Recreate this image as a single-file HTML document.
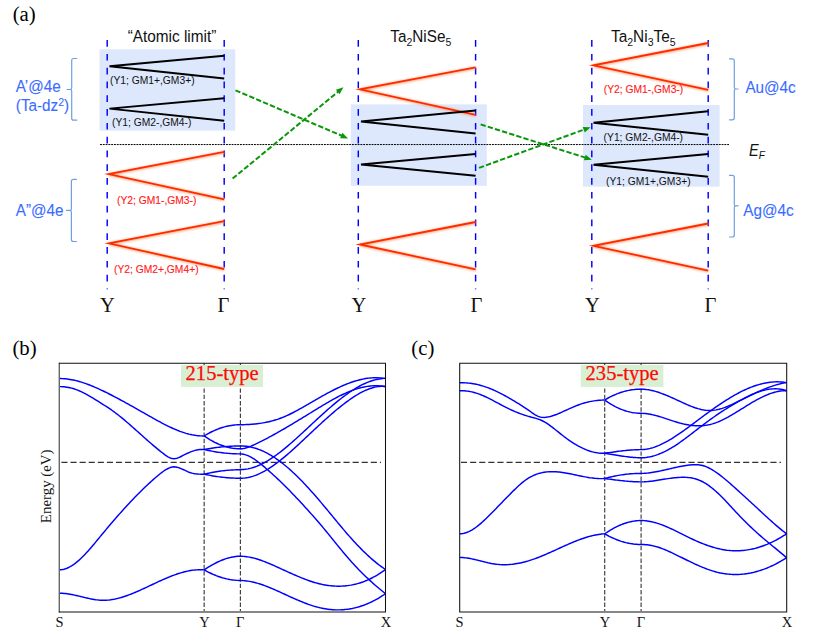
<!DOCTYPE html>
<html>
<head>
<meta charset="utf-8">
<title>Figure</title>
<style>
html,body{margin:0;padding:0;background:#fff;}
body{width:822px;height:638px;overflow:hidden;}
svg{display:block;}
text{white-space:pre;}
.sans{font-family:"Liberation Sans",sans-serif;}
.serif{font-family:"Liberation Serif",serif;}
</style>
</head>
<body>
<svg width="822" height="638" viewBox="0 0 822 638">
<defs>
<filter id="glow" x="-5%" y="-25%" width="110%" height="150%"><feGaussianBlur stdDeviation="1.2"/></filter>
</defs>
<rect x="0" y="0" width="822" height="638" fill="#ffffff"/>

<!-- ============ PANEL (a) ============ -->
<text class="serif" x="12.7" y="20.8" font-size="20.8">(a)</text>

<!-- shaded boxes -->
<g fill="#dde8fc">
<rect x="99.5" y="49.3" width="135.8" height="81.3"/>
<rect x="350.8" y="104.4" width="136" height="81.4"/>
<rect x="583" y="105" width="136.6" height="81.6"/>
</g>

<!-- E_F dotted line -->
<line x1="100" y1="144.55" x2="729" y2="144.55" stroke="#000" stroke-width="1" stroke-dasharray="1.9 0.9"/>

<!-- blue dashed verticals -->
<g stroke="#0000ff" stroke-width="1.45" stroke-dasharray="6.7 7.1" fill="none">
<line x1="107.2" y1="40.1" x2="107.2" y2="289.2"/>
<line x1="224.2" y1="40.1" x2="224.2" y2="289.2"/>
<line x1="358.3" y1="40.1" x2="358.3" y2="289.2"/>
<line x1="475.6" y1="40.1" x2="475.6" y2="289.2"/>
<line x1="591.8" y1="40.1" x2="591.8" y2="289.2"/>
<line x1="708.2" y1="40.1" x2="708.2" y2="289.2"/>
</g>

<!-- red V glows -->
<g stroke="#ff9055" stroke-width="3" fill="none" filter="url(#glow)" opacity="0.7" transform="translate(0.4 0.5)">
<path d="M224.2 151.9L108.6 174.1L224.2 199.3"/>
<path d="M224.2 221.2L108.8 243.4L224.2 269"/>
<path d="M475.6 67.4L359.8 89.3L475.6 114.9"/>
<path d="M475.6 222L359.8 244.5L475.6 269.3"/>
<path d="M708.2 43L593.3 65.3L708.2 89.8"/>
<path d="M708.2 223.5L593.3 245.8L708.2 270.6"/>
</g>
<!-- red V -->
<g stroke="#ff2a00" stroke-width="1.8" fill="none" stroke-linejoin="miter" stroke-miterlimit="8">
<path d="M224.2 151.9L108.6 174.1L224.2 199.3"/>
<path d="M224.2 221.2L108.8 243.4L224.2 269"/>
<path d="M475.6 67.4L359.8 89.3L475.6 114.9"/>
<path d="M475.6 222L359.8 244.5L475.6 269.3"/>
<path d="M708.2 43L593.3 65.3L708.2 89.8"/>
<path d="M708.2 223.5L593.3 245.8L708.2 270.6"/>
</g>
<!-- black V -->
<g stroke="#000" stroke-width="1.9" fill="none" stroke-linejoin="miter">
<path d="M224.2 55.7L109.5 66.3L224.2 78.5"/>
<path d="M224.2 98.2L109.5 108.6L224.2 120.7"/>
<path d="M475.6 110.5L361 121.5L475.6 133.5"/>
<path d="M475.6 154L361 164.5L475.6 175.8"/>
<path d="M708.2 111.2L593.5 122.8L708.2 134.8"/>
<path d="M708.2 154L593.5 164.8L708.2 176.7"/>
</g>

<!-- green dashed arrows -->
<g stroke="#0a960a" stroke-width="2" stroke-dasharray="5.3 2.2" fill="none">
<line x1="235.5" y1="90.3" x2="341.7" y2="135.7"/>
<line x1="232.6" y1="178.6" x2="338.2" y2="91.6"/>
<line x1="480.6" y1="124.4" x2="585.3" y2="157.6"/>
<line x1="479.0" y1="167.9" x2="584.2" y2="129.5"/>
</g>
<g fill="#0a960a">
<path d="M348.0 138.4L340.1 138.2L342.4 132.8Z"/>
<path d="M343.4 87.3L339.6 94.2L335.9 89.7Z"/>
<path d="M591.8 159.7L583.9 160.3L585.7 154.7Z"/>
<path d="M590.6 127.2L584.8 132.5L582.7 126.9Z"/>
</g>

<!-- titles -->
<text class="sans" transform="translate(127.7 42) scale(1 1.08)" font-size="15.35" fill="#111">“Atomic limit”</text>
<text class="sans" transform="translate(390.3 42) scale(1 1.08)" font-size="15.3" fill="#111">Ta<tspan font-size="10.5" dy="4">2</tspan><tspan dy="-4">NiSe</tspan><tspan font-size="10.5" dy="4">5</tspan></text>
<text class="sans" transform="translate(611 41.5) scale(1 1.08)" font-size="15.4" fill="#111">Ta<tspan font-size="10.5" dy="4">2</tspan><tspan dy="-4">Ni</tspan><tspan font-size="10.5" dy="4">3</tspan><tspan dy="-4">Te</tspan><tspan font-size="10.5" dy="4">5</tspan></text>

<!-- band labels -->
<g class="sans" font-size="10.3" fill="#111">
<text transform="translate(110 83.6) scale(1 1.08)">(Y1; GM1+,GM3+)</text>
<text transform="translate(112 126) scale(1 1.08)">(Y1; GM2-,GM4-)</text>
<text transform="translate(603.6 140.6) scale(1 1.08)">(Y1; GM2-,GM4-)</text>
<text transform="translate(606 184.6) scale(1 1.08)">(Y1; GM1+,GM3+)</text>
</g>
<g class="sans" font-size="10.3" fill="#ff1a1a" stroke="#ff1a1a" stroke-width="0.12">
<text transform="translate(117 203.5) scale(1 1.08)">(Y2; GM1-,GM3-)</text>
<text transform="translate(114 272.8) scale(1 1.08)">(Y2; GM2+,GM4+)</text>
<text transform="translate(603.8 93.4) scale(1 1.08)">(Y2; GM1-,GM3-)</text>
</g>

<!-- side labels -->
<g class="sans" font-size="15.3" fill="#3a6cff" stroke="#3a6cff" stroke-width="0.1">
<text transform="translate(15.8 92) scale(1 1.08)">A’@4e</text>
<text transform="translate(15.8 111) scale(1 1.08)">(Ta-dz<tspan font-size="10.5" dy="-4.9">2</tspan><tspan dy="4.9">)</tspan></text>
<text transform="translate(15.8 215.8) scale(1 1.08)">A”@4e</text>
<text transform="translate(745.4 93.4) scale(1 1.08)">Au@4c</text>
<text transform="translate(743.3 215.6) scale(1 1.08)">Ag@4c</text>
</g>
<text class="sans" transform="translate(749 155.5) scale(1 1.08)" font-size="14.5" font-style="italic" fill="#111">E<tspan font-size="10" dy="3.5">F</tspan></text>

<!-- brackets -->
<g stroke="#6f9fe0" stroke-width="1.2" fill="none">
<path d="M77.3 58.5L73.7 58.5Q71.7 58.5 71.7 60.5L71.7 88.0Q71.7 89.5 70.0 89.5L66.5 89.5M70.0 89.5Q71.7 89.5 71.7 91.0L71.7 118.2Q71.7 120.2 73.7 120.2L77.3 120.2"/>
<path d="M76.9 179.4L73.4 179.4Q71.4 179.4 71.4 181.4L71.4 208.9Q71.4 210.4 69.7 210.4L66.0 210.4M69.7 210.4Q71.4 210.4 71.4 211.9L71.4 239.5Q71.4 241.5 73.4 241.5L76.9 241.5"/>
<path d="M729.1 58.8L732.3 58.8Q734.3 58.8 734.3 60.8L734.3 87.5Q734.3 89.0 736.0 89.0L738.5 89.0M736.0 89.0Q734.3 89.0 734.3 90.5L734.3 117.8Q734.3 119.8 732.3 119.8L729.1 119.8"/>
<path d="M729.1 175.4L732.3 175.4Q734.3 175.4 734.3 177.4L734.3 204.4Q734.3 205.9 736.0 205.9L738.5 205.9M736.0 205.9Q734.3 205.9 734.3 207.4L734.3 235.0Q734.3 237.0 732.3 237.0L729.1 237.0"/>
</g>

<!-- k labels -->
<g class="serif" font-size="20.5" fill="#111" text-anchor="middle">
<text x="107.5" y="311.5">Y</text><text x="223.5" y="311.5">Γ</text>
<text x="359" y="311.5">Y</text><text x="476.5" y="311.5">Γ</text>
<text x="592.3" y="311.5">Y</text><text x="710.5" y="311.5">Γ</text>
</g>

<!-- ============ PANEL (b) ============ -->
<text class="serif" x="12.4" y="355" font-size="20.8">(b)</text>
<g stroke="#444" stroke-width="1.2" stroke-dasharray="4.4 1.9" fill="none">
<line x1="204.15" y1="363.2" x2="204.15" y2="611"/>
<line x1="240.4" y1="363.2" x2="240.4" y2="611"/>
</g>
<line x1="61.4" y1="462.3" x2="381" y2="462.3" stroke="#333" stroke-width="1.15" stroke-dasharray="6.1 3" fill="none"/>
<g stroke="#0000ff" stroke-width="1.45" fill="none" stroke-linecap="butt">
<path d="M59.50 378.50L61.01 378.55L62.51 378.60L64.02 378.69L65.53 378.82L67.03 378.98L68.54 379.18L70.05 379.41L71.55 379.67L73.06 379.97L74.57 380.30L76.07 380.65L77.58 381.04L79.09 381.46L80.59 381.90L82.10 382.36L83.61 382.85L85.12 383.37L86.62 383.91L88.13 384.47L89.64 385.04L91.14 385.64L92.65 386.26L94.16 386.90L95.66 387.55L97.17 388.21L98.68 388.89L100.18 389.59L101.69 390.29L103.20 391.01L104.70 391.74L106.21 392.47L107.72 393.22L109.22 393.98L110.73 394.74L112.24 395.51L113.74 396.29L115.25 397.08L116.76 397.88L118.26 398.68L119.77 399.49L121.28 400.31L122.78 401.13L124.29 401.95L125.80 402.78L127.30 403.62L128.81 404.46L130.32 405.30L131.82 406.15L133.33 406.99L134.84 407.85L136.35 408.70L137.85 409.55L139.36 410.41L140.87 411.26L142.37 412.12L143.88 412.98L145.39 413.83L146.89 414.69L148.40 415.54L149.91 416.39L151.41 417.24L152.92 418.09L154.43 418.93L155.93 419.77L157.44 420.60L158.95 421.42L160.45 422.23L161.96 423.03L163.47 423.82L164.97 424.59L166.48 425.35L167.99 426.10L169.49 426.82L171.00 427.53L172.51 428.22L174.01 428.89L175.52 429.53L177.03 430.16L178.53 430.75L180.04 431.33L181.55 431.87L183.06 432.39L184.56 432.87L186.07 433.33L187.58 433.75L189.08 434.14L190.59 434.49L192.10 434.81L193.60 435.09L195.11 435.33L196.62 435.53L198.12 435.69L199.63 435.81L201.14 435.89L202.64 435.92L204.15 435.90"/>
<path d="M59.50 386.60L61.01 386.60L62.51 386.67L64.02 386.78L65.53 386.95L67.03 387.17L68.54 387.44L70.05 387.76L71.55 388.14L73.06 388.56L74.57 389.03L76.07 389.56L77.58 390.13L79.09 390.75L80.59 391.42L82.10 392.12L83.61 392.87L85.12 393.64L86.62 394.45L88.13 395.29L89.64 396.16L91.14 397.04L92.65 397.95L94.16 398.87L95.66 399.80L97.17 400.74L98.68 401.69L100.18 402.65L101.69 403.60L103.20 404.55L104.70 405.50L106.21 406.46L107.72 407.43L109.22 408.43L110.73 409.46L112.24 410.51L113.74 411.60L115.25 412.72L116.76 413.86L118.26 415.03L119.77 416.22L121.28 417.43L122.78 418.67L124.29 419.92L125.80 421.19L127.30 422.48L128.81 423.78L130.32 425.09L131.82 426.42L133.33 427.75L134.84 429.09L136.35 430.43L137.85 431.78L139.36 433.13L140.87 434.48L142.37 435.83L143.88 437.18L145.39 438.52L146.89 439.85L148.40 441.18L149.91 442.50L151.41 443.81L152.92 445.10L154.43 446.38L155.93 447.65L157.44 448.89L158.95 450.12L160.45 451.33L161.96 452.51L163.47 453.67L164.97 454.79L166.48 455.85L167.99 456.80L169.49 457.60L171.00 458.21L172.51 458.59L174.01 458.69L175.52 458.54L177.03 458.18L178.53 457.65L180.04 457.00L181.55 456.26L183.06 455.48L184.56 454.70L186.07 453.95L187.58 453.23L189.08 452.55L190.59 451.91L192.10 451.33L193.60 450.82L195.11 450.38L196.62 450.01L198.12 449.74L199.63 449.56L201.14 449.46L202.64 449.44L204.15 449.50"/>
<path d="M59.50 569.80L61.01 569.75L62.51 569.55L64.02 569.22L65.53 568.77L67.03 568.21L68.54 567.53L70.05 566.74L71.55 565.86L73.06 564.88L74.57 563.80L76.07 562.64L77.58 561.40L79.09 560.09L80.59 558.70L82.10 557.25L83.61 555.74L85.12 554.17L86.62 552.56L88.13 550.90L89.64 549.20L91.14 547.47L92.65 545.70L94.16 543.92L95.66 542.11L97.17 540.29L98.68 538.47L100.18 536.64L101.69 534.81L103.20 532.99L104.70 531.18L106.21 529.38L107.72 527.59L109.22 525.80L110.73 524.03L112.24 522.27L113.74 520.52L115.25 518.78L116.76 517.05L118.26 515.33L119.77 513.63L121.28 511.93L122.78 510.25L124.29 508.59L125.80 506.94L127.30 505.30L128.81 503.67L130.32 502.06L131.82 500.47L133.33 498.89L134.84 497.33L136.35 495.78L137.85 494.25L139.36 492.73L140.87 491.23L142.37 489.75L143.88 488.29L145.39 486.84L146.89 485.42L148.40 484.01L149.91 482.62L151.41 481.25L152.92 479.90L154.43 478.57L155.93 477.26L157.44 475.98L158.95 474.71L160.45 473.49L161.96 472.33L163.47 471.23L164.97 470.22L166.48 469.30L167.99 468.50L169.49 467.82L171.00 467.29L172.51 466.96L174.01 466.84L175.52 466.94L177.03 467.22L178.53 467.65L180.04 468.20L181.55 468.82L183.06 469.51L184.56 470.21L186.07 470.92L187.58 471.59L189.08 472.21L190.59 472.74L192.10 473.16L193.60 473.49L195.11 473.73L196.62 473.91L198.12 474.04L199.63 474.13L201.14 474.19L202.64 474.24L204.15 474.30"/>
<path d="M59.50 593.20L61.01 593.26L62.51 593.32L64.02 593.43L65.53 593.57L67.03 593.76L68.54 593.98L70.05 594.22L71.55 594.50L73.06 594.80L74.57 595.12L76.07 595.45L77.58 595.80L79.09 596.16L80.59 596.52L82.10 596.89L83.61 597.25L85.12 597.61L86.62 597.96L88.13 598.30L89.64 598.63L91.14 598.94L92.65 599.22L94.16 599.48L95.66 599.71L97.17 599.90L98.68 600.07L100.18 600.19L101.69 600.26L103.20 600.30L104.70 600.28L106.21 600.22L107.72 600.11L109.22 599.97L110.73 599.78L112.24 599.55L113.74 599.29L115.25 598.99L116.76 598.65L118.26 598.29L119.77 597.89L121.28 597.46L122.78 597.00L124.29 596.52L125.80 596.01L127.30 595.48L128.81 594.92L130.32 594.35L131.82 593.75L133.33 593.14L134.84 592.51L136.35 591.87L137.85 591.22L139.36 590.55L140.87 589.88L142.37 589.19L143.88 588.50L145.39 587.80L146.89 587.10L148.40 586.39L149.91 585.68L151.41 584.97L152.92 584.26L154.43 583.55L155.93 582.84L157.44 582.14L158.95 581.45L160.45 580.76L161.96 580.08L163.47 579.41L164.97 578.75L166.48 578.10L167.99 577.47L169.49 576.85L171.00 576.25L172.51 575.67L174.01 575.10L175.52 574.56L177.03 574.04L178.53 573.54L180.04 573.07L181.55 572.62L183.06 572.20L184.56 571.80L186.07 571.44L187.58 571.11L189.08 570.81L190.59 570.55L192.10 570.32L193.60 570.12L195.11 569.97L196.62 569.85L198.12 569.77L199.63 569.74L201.14 569.75L202.64 569.80L204.15 569.90"/>
<path d="M204.15 435.90L205.66 435.00L207.17 434.13L208.68 433.30L210.19 432.50L211.70 431.75L213.21 431.03L214.72 430.35L216.23 429.71L217.74 429.11L219.25 428.54L220.76 428.02L222.28 427.53L223.79 427.08L225.30 426.67L226.81 426.30L228.32 425.96L229.83 425.67L231.34 425.41L232.85 425.20L234.36 425.02L235.87 424.88L237.38 424.78L238.89 424.72L240.40 424.70L241.91 424.69L243.42 424.66L244.93 424.63L246.45 424.57L247.96 424.51L249.47 424.42L250.98 424.33L252.49 424.21L254.00 424.08L255.51 423.93L257.03 423.77L258.54 423.58L260.05 423.37L261.56 423.14L263.07 422.89L264.58 422.62L266.09 422.33L267.61 422.01L269.12 421.67L270.63 421.30L272.14 420.91L273.65 420.49L275.16 420.04L276.68 419.57L278.19 419.07L279.70 418.53L281.21 417.97L282.72 417.38L284.23 416.76L285.74 416.10L287.26 415.43L288.77 414.72L290.28 413.99L291.79 413.25L293.30 412.48L294.81 411.69L296.32 410.88L297.84 410.06L299.35 409.23L300.86 408.38L302.37 407.53L303.88 406.66L305.39 405.79L306.90 404.92L308.42 404.04L309.93 403.16L311.44 402.27L312.95 401.39L314.46 400.51L315.97 399.64L317.48 398.77L319.00 397.90L320.51 397.05L322.02 396.19L323.53 395.35L325.04 394.51L326.55 393.69L328.06 392.87L329.58 392.07L331.09 391.28L332.60 390.50L334.11 389.74L335.62 388.99L337.13 388.26L338.64 387.54L340.16 386.85L341.67 386.17L343.18 385.51L344.69 384.87L346.20 384.25L347.71 383.65L349.23 383.08L350.74 382.53L352.25 382.01L353.76 381.51L355.27 381.04L356.78 380.60L358.29 380.18L359.81 379.80L361.32 379.44L362.83 379.12L364.34 378.83L365.85 378.57L367.36 378.34L368.87 378.15L370.39 378.00L371.90 377.88L373.41 377.80L374.92 377.76L376.43 377.76L377.94 377.79L379.45 377.87L380.97 377.99L382.48 378.15L383.99 378.36L385.50 378.60"/>
<path d="M204.15 435.90L205.66 436.94L207.17 437.94L208.68 438.89L210.19 439.81L211.70 440.68L213.21 441.50L214.72 442.29L216.23 443.02L217.74 443.72L219.25 444.37L220.76 444.97L222.28 445.53L223.79 446.05L225.30 446.52L226.81 446.95L228.32 447.34L229.83 447.67L231.34 447.97L232.85 448.22L234.36 448.42L235.87 448.58L237.38 448.70L238.89 448.77L240.40 448.80L241.91 448.68L243.42 448.48L244.93 448.18L246.45 447.77L247.96 447.29L249.47 446.74L250.98 446.13L252.49 445.48L254.00 444.80L255.51 444.10L257.03 443.39L258.54 442.67L260.05 441.92L261.56 441.17L263.07 440.40L264.58 439.63L266.09 438.84L267.61 438.04L269.12 437.23L270.63 436.41L272.14 435.59L273.65 434.76L275.16 433.92L276.68 433.07L278.19 432.22L279.70 431.36L281.21 430.49L282.72 429.62L284.23 428.75L285.74 427.86L287.26 426.98L288.77 426.09L290.28 425.19L291.79 424.29L293.30 423.39L294.81 422.48L296.32 421.57L297.84 420.65L299.35 419.73L300.86 418.81L302.37 417.89L303.88 416.97L305.39 416.04L306.90 415.11L308.42 414.18L309.93 413.25L311.44 412.32L312.95 411.39L314.46 410.46L315.97 409.53L317.48 408.60L319.00 407.68L320.51 406.76L322.02 405.84L323.53 404.94L325.04 404.04L326.55 403.15L328.06 402.27L329.58 401.40L331.09 400.54L332.60 399.70L334.11 398.87L335.62 398.06L337.13 397.26L338.64 396.48L340.16 395.72L341.67 394.98L343.18 394.26L344.69 393.56L346.20 392.88L347.71 392.23L349.23 391.60L350.74 391.00L352.25 390.42L353.76 389.88L355.27 389.36L356.78 388.87L358.29 388.42L359.81 387.99L361.32 387.60L362.83 387.25L364.34 386.93L365.85 386.65L367.36 386.40L368.87 386.19L370.39 386.03L371.90 385.90L373.41 385.82L374.92 385.78L376.43 385.78L377.94 385.83L379.45 385.93L380.97 386.07L382.48 386.26L383.99 386.50L385.50 386.80"/>
<path d="M204.15 449.50L205.66 449.22L207.17 448.94L208.68 448.68L210.19 448.43L211.70 448.19L213.21 447.97L214.72 447.76L216.23 447.56L217.74 447.37L219.25 447.19L220.76 447.03L222.28 446.87L223.79 446.73L225.30 446.61L226.81 446.49L228.32 446.39L229.83 446.30L231.34 446.22L232.85 446.15L234.36 446.09L235.87 446.05L237.38 446.02L238.89 446.00L240.40 446.00L241.91 445.99L243.42 446.05L244.93 446.17L246.45 446.33L247.96 446.54L249.47 446.80L250.98 447.10L252.49 447.46L254.00 447.85L255.51 448.30L257.03 448.78L258.54 449.32L260.05 449.89L261.56 450.51L263.07 451.18L264.58 451.89L266.09 452.64L267.61 453.43L269.12 454.26L270.63 455.14L272.14 456.06L273.65 457.01L275.16 458.00L276.68 459.04L278.19 460.10L279.70 461.21L281.21 462.35L282.72 463.52L284.23 464.73L285.74 465.98L287.26 467.25L288.77 468.56L290.28 469.89L291.79 471.26L293.30 472.66L294.81 474.08L296.32 475.53L297.84 477.01L299.35 478.52L300.86 480.05L302.37 481.60L303.88 483.18L305.39 484.78L306.90 486.41L308.42 488.05L309.93 489.72L311.44 491.40L312.95 493.10L314.46 494.82L315.97 496.56L317.48 498.31L319.00 500.07L320.51 501.85L322.02 503.64L323.53 505.44L325.04 507.25L326.55 509.07L328.06 510.89L329.58 512.72L331.09 514.56L332.60 516.39L334.11 518.23L335.62 520.06L337.13 521.89L338.64 523.71L340.16 525.53L341.67 527.33L343.18 529.12L344.69 530.90L346.20 532.66L347.71 534.41L349.23 536.13L350.74 537.84L352.25 539.52L353.76 541.18L355.27 542.82L356.78 544.43L358.29 546.02L359.81 547.59L361.32 549.13L362.83 550.64L364.34 552.12L365.85 553.57L367.36 555.00L368.87 556.39L370.39 557.76L371.90 559.09L373.41 560.38L374.92 561.65L376.43 562.88L377.94 564.08L379.45 565.24L380.97 566.36L382.48 567.44L383.99 568.49L385.50 569.50"/>
<path d="M204.15 449.50L205.66 449.85L207.17 450.19L208.68 450.52L210.19 450.83L211.70 451.12L213.21 451.40L214.72 451.67L216.23 451.92L217.74 452.16L219.25 452.38L220.76 452.58L222.28 452.78L223.79 452.95L225.30 453.11L226.81 453.26L228.32 453.39L229.83 453.51L231.34 453.61L232.85 453.70L234.36 453.77L235.87 453.82L237.38 453.86L238.89 453.89L240.40 453.90L241.91 454.05L243.42 454.26L244.93 454.61L246.45 455.08L247.96 455.67L249.47 456.36L250.98 457.15L252.49 458.03L254.00 458.98L255.51 460.01L257.03 461.10L258.54 462.24L260.05 463.43L261.56 464.65L263.07 465.90L264.58 467.17L266.09 468.46L267.61 469.76L269.12 471.09L270.63 472.43L272.14 473.79L273.65 475.17L275.16 476.56L276.68 477.97L278.19 479.40L279.70 480.84L281.21 482.30L282.72 483.77L284.23 485.26L285.74 486.76L287.26 488.28L288.77 489.81L290.28 491.35L291.79 492.90L293.30 494.47L294.81 496.05L296.32 497.64L297.84 499.24L299.35 500.85L300.86 502.48L302.37 504.11L303.88 505.75L305.39 507.40L306.90 509.07L308.42 510.74L309.93 512.42L311.44 514.12L312.95 515.83L314.46 517.55L315.97 519.28L317.48 521.02L319.00 522.78L320.51 524.55L322.02 526.34L323.53 528.14L325.04 529.96L326.55 531.79L328.06 533.63L329.58 535.49L331.09 537.36L332.60 539.23L334.11 541.10L335.62 542.97L337.13 544.84L338.64 546.70L340.16 548.56L341.67 550.40L343.18 552.22L344.69 554.03L346.20 555.81L347.71 557.57L349.23 559.31L350.74 561.01L352.25 562.69L353.76 564.34L355.27 565.97L356.78 567.57L358.29 569.15L359.81 570.70L361.32 572.22L362.83 573.73L364.34 575.21L365.85 576.66L367.36 578.10L368.87 579.51L370.39 580.90L371.90 582.27L373.41 583.61L374.92 584.94L376.43 586.25L377.94 587.54L379.45 588.80L380.97 590.06L382.48 591.29L383.99 592.50L385.50 593.70"/>
<path d="M204.15 474.20L205.66 473.85L207.17 473.50L208.68 473.17L210.19 472.86L211.70 472.56L213.21 472.27L214.72 472.00L216.23 471.74L217.74 471.50L219.25 471.28L220.76 471.07L222.28 470.87L223.79 470.69L225.30 470.52L226.81 470.37L228.32 470.24L229.83 470.12L231.34 470.01L232.85 469.93L234.36 469.85L235.87 469.80L237.38 469.75L238.89 469.73L240.40 469.70L241.91 469.59L243.42 469.49L244.93 469.34L246.45 469.13L247.96 468.86L249.47 468.54L250.98 468.16L252.49 467.73L254.00 467.24L255.51 466.71L257.03 466.13L258.54 465.50L260.05 464.82L261.56 464.10L263.07 463.34L264.58 462.53L266.09 461.69L267.61 460.80L269.12 459.88L270.63 458.92L272.14 457.93L273.65 456.90L275.16 455.84L276.68 454.75L278.19 453.64L279.70 452.49L281.21 451.32L282.72 450.12L284.23 448.90L285.74 447.66L287.26 446.39L288.77 445.11L290.28 443.81L291.79 442.49L293.30 441.16L294.81 439.81L296.32 438.45L297.84 437.08L299.35 435.70L300.86 434.31L302.37 432.92L303.88 431.52L305.39 430.11L306.90 428.71L308.42 427.30L309.93 425.89L311.44 424.48L312.95 423.07L314.46 421.66L315.97 420.26L317.48 418.87L319.00 417.47L320.51 416.09L322.02 414.71L323.53 413.34L325.04 411.99L326.55 410.64L328.06 409.31L329.58 407.98L331.09 406.68L332.60 405.39L334.11 404.11L335.62 402.85L337.13 401.62L338.64 400.40L340.16 399.20L341.67 398.02L343.18 396.87L344.69 395.74L346.20 394.64L347.71 393.56L349.23 392.51L350.74 391.49L352.25 390.50L353.76 389.53L355.27 388.60L356.78 387.71L358.29 386.84L359.81 386.01L361.32 385.22L362.83 384.47L364.34 383.75L365.85 383.07L367.36 382.43L368.87 381.83L370.39 381.28L371.90 380.77L373.41 380.30L374.92 379.88L376.43 379.51L377.94 379.18L379.45 378.91L380.97 378.68L382.48 378.50L383.99 378.38L385.50 378.30"/>
<path d="M204.15 474.20L205.66 474.52L207.17 474.83L208.68 475.13L210.19 475.41L211.70 475.69L213.21 475.94L214.72 476.19L216.23 476.42L217.74 476.64L219.25 476.85L220.76 477.04L222.28 477.22L223.79 477.38L225.30 477.54L226.81 477.67L228.32 477.80L229.83 477.91L231.34 478.00L232.85 478.08L234.36 478.15L235.87 478.20L237.38 478.24L238.89 478.26L240.40 478.30L241.91 478.24L243.42 478.15L244.93 478.00L246.45 477.78L247.96 477.51L249.47 477.18L250.98 476.80L252.49 476.36L254.00 475.86L255.51 475.32L257.03 474.72L258.54 474.08L260.05 473.39L261.56 472.65L263.07 471.87L264.58 471.05L266.09 470.18L267.61 469.28L269.12 468.34L270.63 467.36L272.14 466.34L273.65 465.30L275.16 464.21L276.68 463.10L278.19 461.96L279.70 460.79L281.21 459.60L282.72 458.38L284.23 457.13L285.74 455.86L287.26 454.58L288.77 453.27L290.28 451.95L291.79 450.61L293.30 449.25L294.81 447.89L296.32 446.51L297.84 445.12L299.35 443.72L300.86 442.31L302.37 440.90L303.88 439.48L305.39 438.06L306.90 436.64L308.42 435.22L309.93 433.80L311.44 432.38L312.95 430.96L314.46 429.54L315.97 428.13L317.48 426.72L319.00 425.32L320.51 423.93L322.02 422.54L323.53 421.16L325.04 419.79L326.55 418.43L328.06 417.09L329.58 415.75L331.09 414.43L332.60 413.13L334.11 411.84L335.62 410.56L337.13 409.30L338.64 408.07L340.16 406.85L341.67 405.65L343.18 404.47L344.69 403.32L346.20 402.18L347.71 401.08L349.23 399.99L350.74 398.94L352.25 397.91L353.76 396.91L355.27 395.94L356.78 395.00L358.29 394.10L359.81 393.24L361.32 392.42L362.83 391.64L364.34 390.90L365.85 390.21L367.36 389.57L368.87 388.98L370.39 388.44L371.90 387.96L373.41 387.53L374.92 387.16L376.43 386.85L377.94 386.61L379.45 386.43L380.97 386.32L382.48 386.27L383.99 386.30L385.50 386.40"/>
<path d="M204.15 569.90L205.66 568.90L207.17 567.93L208.68 566.98L210.19 566.07L211.70 565.19L213.21 564.34L214.72 563.53L216.23 562.75L217.74 562.01L219.25 561.31L220.76 560.65L222.28 560.02L223.79 559.45L225.30 558.91L226.81 558.42L228.32 557.98L229.83 557.58L231.34 557.23L232.85 556.93L234.36 556.68L235.87 556.49L237.38 556.34L238.89 556.26L240.40 556.20L241.91 556.28L243.42 556.37L244.93 556.50L246.45 556.67L247.96 556.89L249.47 557.15L250.98 557.45L252.49 557.79L254.00 558.16L255.51 558.57L257.03 559.01L258.54 559.48L260.05 559.98L261.56 560.51L263.07 561.06L264.58 561.63L266.09 562.22L267.61 562.83L269.12 563.46L270.63 564.11L272.14 564.76L273.65 565.43L275.16 566.10L276.68 566.79L278.19 567.48L279.70 568.17L281.21 568.86L282.72 569.56L284.23 570.25L285.74 570.94L287.26 571.64L288.77 572.32L290.28 573.01L291.79 573.69L293.30 574.36L294.81 575.02L296.32 575.67L297.84 576.32L299.35 576.95L300.86 577.57L302.37 578.18L303.88 578.78L305.39 579.35L306.90 579.92L308.42 580.46L309.93 580.98L311.44 581.49L312.95 581.97L314.46 582.44L315.97 582.88L317.48 583.29L319.00 583.68L320.51 584.04L322.02 584.38L323.53 584.69L325.04 584.97L326.55 585.22L328.06 585.44L329.58 585.64L331.09 585.80L332.60 585.94L334.11 586.04L335.62 586.12L337.13 586.17L338.64 586.18L340.16 586.17L341.67 586.12L343.18 586.04L344.69 585.93L346.20 585.78L347.71 585.60L349.23 585.39L350.74 585.15L352.25 584.87L353.76 584.56L355.27 584.21L356.78 583.83L358.29 583.42L359.81 582.96L361.32 582.47L362.83 581.95L364.34 581.39L365.85 580.79L367.36 580.16L368.87 579.48L370.39 578.77L371.90 578.02L373.41 577.23L374.92 576.41L376.43 575.54L377.94 574.64L379.45 573.69L380.97 572.70L382.48 571.68L383.99 570.61L385.50 569.50"/>
<path d="M204.15 569.90L205.66 570.72L207.17 571.52L208.68 572.29L210.19 573.02L211.70 573.73L213.21 574.40L214.72 575.03L216.23 575.64L217.74 576.21L219.25 576.74L220.76 577.24L222.28 577.71L223.79 578.14L225.30 578.54L226.81 578.90L228.32 579.22L229.83 579.51L231.34 579.76L232.85 579.97L234.36 580.15L235.87 580.29L237.38 580.39L238.89 580.45L240.40 580.50L241.91 580.57L243.42 580.64L244.93 580.76L246.45 580.92L247.96 581.13L249.47 581.37L250.98 581.65L252.49 581.97L254.00 582.32L255.51 582.70L257.03 583.12L258.54 583.57L260.05 584.04L261.56 584.54L263.07 585.06L264.58 585.61L266.09 586.18L267.61 586.76L269.12 587.37L270.63 587.99L272.14 588.63L273.65 589.27L275.16 589.93L276.68 590.60L278.19 591.28L279.70 591.96L281.21 592.65L282.72 593.34L284.23 594.03L285.74 594.72L287.26 595.41L288.77 596.10L290.28 596.79L291.79 597.47L293.30 598.15L294.81 598.82L296.32 599.48L297.84 600.13L299.35 600.77L300.86 601.40L302.37 602.02L303.88 602.62L305.39 603.21L306.90 603.78L308.42 604.33L309.93 604.86L311.44 605.37L312.95 605.85L314.46 606.32L315.97 606.76L317.48 607.17L319.00 607.56L320.51 607.91L322.02 608.24L323.53 608.54L325.04 608.81L326.55 609.05L328.06 609.26L329.58 609.44L331.09 609.59L332.60 609.71L334.11 609.80L335.62 609.86L337.13 609.88L338.64 609.88L340.16 609.85L341.67 609.78L343.18 609.69L344.69 609.56L346.20 609.40L347.71 609.21L349.23 608.99L350.74 608.73L352.25 608.45L353.76 608.13L355.27 607.78L356.78 607.39L358.29 606.98L359.81 606.53L361.32 606.04L362.83 605.53L364.34 604.98L365.85 604.39L367.36 603.78L368.87 603.13L370.39 602.44L371.90 601.73L373.41 600.97L374.92 600.19L376.43 599.36L377.94 598.51L379.45 597.62L380.97 596.69L382.48 595.73L383.99 594.73L385.50 593.70"/>
</g>
<path d="M59.3 362.7L59.3 612.4" stroke="#666" stroke-width="1.4" fill="none"/><path d="M58.9 363.2L386 363.2M385.5 362.7L385.5 612.4M58.9 611.9L386 611.9" stroke="#111" stroke-width="1.05" fill="none"/>
<rect x="181" y="365" width="82" height="21.9" fill="#d9efd4"/>
<text class="serif" x="185.6" y="379.8" font-size="20.55" fill="#ff0808" stroke="#ff0808" stroke-width="0.25">215-type</text>
<text class="serif" font-size="14.9" fill="#111" text-anchor="middle" transform="translate(51 486.3) rotate(-90)">Energy (eV)</text>
<g class="serif" font-size="14.5" fill="#111" text-anchor="middle">
<text transform="translate(59.5 626.8) scale(1 1.07)">S</text><text transform="translate(204.5 626.8) scale(1 1.07)">Y</text><text transform="translate(240.2 626.8) scale(1 1.07)">Γ</text><text transform="translate(386 626.8) scale(1 1.07)">X</text>
</g>

<!-- ============ PANEL (c) ============ -->
<text class="serif" x="411.3" y="355" font-size="20.8">(c)</text>
<g stroke="#444" stroke-width="1.2" stroke-dasharray="4.4 1.9" fill="none">
<line x1="604.7" y1="363.2" x2="604.7" y2="611"/>
<line x1="641.1" y1="363.2" x2="641.1" y2="611"/>
</g>
<line x1="461" y1="462.3" x2="781" y2="462.3" stroke="#333" stroke-width="1.15" stroke-dasharray="6.1 3" fill="none"/>
<g stroke="#0000ff" stroke-width="1.45" fill="none" stroke-linecap="butt">
<path d="M459.70 382.70L461.21 382.70L462.72 382.73L464.23 382.79L465.74 382.88L467.25 382.99L468.76 383.14L470.27 383.31L471.78 383.52L473.29 383.76L474.80 384.03L476.31 384.33L477.82 384.66L479.34 385.03L480.85 385.43L482.36 385.87L483.87 386.33L485.38 386.83L486.89 387.37L488.40 387.93L489.91 388.52L491.42 389.14L492.93 389.79L494.44 390.46L495.95 391.15L497.46 391.87L498.97 392.61L500.48 393.37L501.99 394.15L503.50 394.94L505.01 395.76L506.52 396.59L508.03 397.43L509.54 398.29L511.05 399.16L512.56 400.04L514.08 400.93L515.59 401.84L517.10 402.77L518.61 403.71L520.12 404.66L521.63 405.63L523.14 406.61L524.65 407.61L526.16 408.63L527.67 409.66L529.18 410.71L530.69 411.77L532.20 412.84L533.71 413.87L535.22 414.82L536.73 415.67L538.24 416.36L539.75 416.87L541.26 417.21L542.77 417.37L544.28 417.40L545.79 417.30L547.30 417.09L548.81 416.80L550.33 416.44L551.84 416.02L553.35 415.55L554.86 415.02L556.37 414.46L557.88 413.85L559.39 413.22L560.90 412.57L562.41 411.89L563.92 411.21L565.43 410.52L566.94 409.83L568.45 409.14L569.96 408.46L571.47 407.79L572.98 407.14L574.49 406.50L576.00 405.88L577.51 405.28L579.02 404.71L580.53 404.17L582.04 403.67L583.55 403.19L585.06 402.76L586.58 402.36L588.09 401.99L589.60 401.66L591.11 401.36L592.62 401.09L594.13 400.85L595.64 400.64L597.15 400.47L598.66 400.32L600.17 400.20L601.68 400.10L603.19 400.04L604.70 400.00"/>
<path d="M459.70 390.70L461.21 390.71L462.72 390.76L464.23 390.84L465.74 390.95L467.25 391.11L468.76 391.33L470.27 391.59L471.78 391.91L473.29 392.27L474.80 392.69L476.31 393.15L477.82 393.65L479.34 394.19L480.85 394.77L482.36 395.39L483.87 396.04L485.38 396.72L486.89 397.43L488.40 398.16L489.91 398.91L491.42 399.69L492.93 400.47L494.44 401.27L495.95 402.07L497.46 402.88L498.97 403.69L500.48 404.49L501.99 405.30L503.50 406.09L505.01 406.88L506.52 407.65L508.03 408.40L509.54 409.13L511.05 409.84L512.56 410.52L514.08 411.19L515.59 411.83L517.10 412.44L518.61 413.04L520.12 413.61L521.63 414.16L523.14 414.68L524.65 415.19L526.16 415.66L527.67 416.12L529.18 416.54L530.69 416.95L532.20 417.34L533.71 417.72L535.22 418.13L536.73 418.57L538.24 419.06L539.75 419.62L541.26 420.27L542.77 421.01L544.28 421.83L545.79 422.73L547.30 423.70L548.81 424.72L550.33 425.80L551.84 426.92L553.35 428.07L554.86 429.25L556.37 430.45L557.88 431.66L559.39 432.88L560.90 434.09L562.41 435.29L563.92 436.47L565.43 437.62L566.94 438.74L568.45 439.83L569.96 440.88L571.47 441.90L572.98 442.88L574.49 443.82L576.00 444.72L577.51 445.59L579.02 446.41L580.53 447.19L582.04 447.93L583.55 448.63L585.06 449.28L586.58 449.89L588.09 450.45L589.60 450.96L591.11 451.43L592.62 451.85L594.13 452.21L595.64 452.53L597.15 452.79L598.66 453.00L600.17 453.16L601.68 453.26L603.19 453.31L604.70 453.30"/>
<path d="M459.70 533.80L461.21 533.73L462.72 533.55L464.23 533.25L465.74 532.82L467.25 532.28L468.76 531.64L470.27 530.90L471.78 530.06L473.29 529.13L474.80 528.12L476.31 527.03L477.82 525.87L479.34 524.65L480.85 523.37L482.36 522.04L483.87 520.66L485.38 519.24L486.89 517.79L488.40 516.30L489.91 514.80L491.42 513.28L492.93 511.75L494.44 510.20L495.95 508.65L497.46 507.09L498.97 505.53L500.48 503.96L501.99 502.40L503.50 500.83L505.01 499.27L506.52 497.72L508.03 496.17L509.54 494.64L511.05 493.12L512.56 491.61L514.08 490.12L515.59 488.65L517.10 487.21L518.61 485.81L520.12 484.46L521.63 483.15L523.14 481.91L524.65 480.74L526.16 479.65L527.67 478.64L529.18 477.71L530.69 476.86L532.20 476.08L533.71 475.38L535.22 474.74L536.73 474.18L538.24 473.67L539.75 473.23L541.26 472.85L542.77 472.53L544.28 472.26L545.79 472.05L547.30 471.88L548.81 471.77L550.33 471.70L551.84 471.67L553.35 471.68L554.86 471.73L556.37 471.81L557.88 471.93L559.39 472.08L560.90 472.26L562.41 472.46L563.92 472.69L565.43 472.93L566.94 473.20L568.45 473.48L569.96 473.77L571.47 474.07L572.98 474.39L574.49 474.70L576.00 475.03L577.51 475.35L579.02 475.67L580.53 475.99L582.04 476.30L583.55 476.60L585.06 476.89L586.58 477.16L588.09 477.42L589.60 477.67L591.11 477.88L592.62 478.08L594.13 478.25L595.64 478.39L597.15 478.50L598.66 478.58L600.17 478.62L601.68 478.62L603.19 478.58L604.70 478.50"/>
<path d="M459.70 557.40L461.21 557.48L462.72 557.56L464.23 557.68L465.74 557.85L467.25 558.05L468.76 558.30L470.27 558.57L471.78 558.87L473.29 559.19L474.80 559.53L476.31 559.89L477.82 560.26L479.34 560.64L480.85 561.02L482.36 561.41L483.87 561.78L485.38 562.16L486.89 562.51L488.40 562.86L489.91 563.18L491.42 563.49L492.93 563.76L494.44 564.00L495.95 564.21L497.46 564.39L498.97 564.52L500.48 564.62L501.99 564.69L503.50 564.73L505.01 564.73L506.52 564.69L508.03 564.63L509.54 564.53L511.05 564.40L512.56 564.25L514.08 564.06L515.59 563.84L517.10 563.59L518.61 563.32L520.12 563.02L521.63 562.69L523.14 562.33L524.65 561.95L526.16 561.54L527.67 561.11L529.18 560.65L530.69 560.17L532.20 559.67L533.71 559.14L535.22 558.60L536.73 558.04L538.24 557.46L539.75 556.86L541.26 556.25L542.77 555.63L544.28 554.99L545.79 554.34L547.30 553.69L548.81 553.02L550.33 552.35L551.84 551.67L553.35 550.98L554.86 550.29L556.37 549.60L557.88 548.91L559.39 548.22L560.90 547.53L562.41 546.85L563.92 546.16L565.43 545.48L566.94 544.81L568.45 544.15L569.96 543.50L571.47 542.85L572.98 542.22L574.49 541.60L576.00 540.99L577.51 540.40L579.02 539.83L580.53 539.27L582.04 538.73L583.55 538.21L585.06 537.72L586.58 537.25L588.09 536.80L589.60 536.37L591.11 535.98L592.62 535.61L594.13 535.27L595.64 534.95L597.15 534.68L598.66 534.43L600.17 534.22L601.68 534.04L603.19 533.90L604.70 533.80"/>
<path d="M604.70 400.00L606.22 399.10L607.73 398.25L609.25 397.43L610.77 396.65L612.28 395.92L613.80 395.22L615.32 394.56L616.83 393.94L618.35 393.36L619.87 392.81L621.38 392.31L622.90 391.84L624.42 391.41L625.93 391.02L627.45 390.66L628.97 390.35L630.48 390.07L632.00 389.83L633.52 389.63L635.03 389.46L636.55 389.34L638.07 389.25L639.58 389.19L641.10 389.20L642.60 389.22L644.10 389.30L645.60 389.43L647.10 389.61L648.60 389.84L650.10 390.11L651.60 390.43L653.10 390.78L654.60 391.17L656.10 391.60L657.60 392.06L659.10 392.55L660.60 393.08L662.10 393.62L663.60 394.20L665.10 394.79L666.60 395.40L668.10 396.04L669.60 396.68L671.10 397.34L672.60 398.02L674.10 398.70L675.60 399.38L677.10 400.08L678.60 400.77L680.10 401.46L681.60 402.15L683.10 402.84L684.60 403.52L686.10 404.18L687.60 404.83L689.10 405.46L690.60 406.07L692.10 406.65L693.60 407.20L695.10 407.73L696.60 408.21L698.10 408.66L699.60 409.07L701.10 409.43L702.60 409.74L704.10 410.01L705.60 410.21L707.10 410.36L708.60 410.45L710.10 410.47L711.60 410.43L713.10 410.31L714.60 410.13L716.10 409.89L717.60 409.58L719.10 409.23L720.60 408.82L722.10 408.36L723.60 407.86L725.10 407.31L726.60 406.73L728.10 406.12L729.60 405.47L731.10 404.80L732.60 404.10L734.10 403.39L735.60 402.66L737.10 401.91L738.60 401.16L740.10 400.40L741.60 399.63L743.10 398.87L744.60 398.12L746.10 397.37L747.60 396.63L749.10 395.91L750.60 395.21L752.10 394.53L753.60 393.88L755.10 393.26L756.60 392.67L758.10 392.11L759.60 391.59L761.10 391.11L762.60 390.66L764.10 390.26L765.60 389.90L767.10 389.59L768.60 389.33L770.10 389.12L771.60 388.96L773.10 388.85L774.60 388.81L776.10 388.82L777.60 388.89L779.10 389.02L780.60 389.22L782.10 389.48L783.60 389.82L785.10 390.23L786.60 390.70"/>
<path d="M604.70 400.00L606.22 401.07L607.73 402.11L609.25 403.09L610.77 404.03L612.28 404.93L613.80 405.78L615.32 406.59L616.83 407.35L618.35 408.06L619.87 408.73L621.38 409.35L622.90 409.93L624.42 410.46L625.93 410.95L627.45 411.39L628.97 411.78L630.48 412.13L632.00 412.43L633.52 412.69L635.03 412.90L636.55 413.06L638.07 413.18L639.58 413.25L641.10 413.30L642.60 413.36L644.10 413.44L645.60 413.57L647.10 413.74L648.60 413.96L650.10 414.22L651.60 414.52L653.10 414.85L654.60 415.21L656.10 415.60L657.60 416.01L659.10 416.45L660.60 416.90L662.10 417.37L663.60 417.86L665.10 418.35L666.60 418.85L668.10 419.35L669.60 419.85L671.10 420.35L672.60 420.84L674.10 421.33L675.60 421.80L677.10 422.25L678.60 422.69L680.10 423.11L681.60 423.50L683.10 423.87L684.60 424.21L686.10 424.52L687.60 424.80L689.10 425.05L690.60 425.26L692.10 425.45L693.60 425.59L695.10 425.70L696.60 425.78L698.10 425.81L699.60 425.80L701.10 425.75L702.60 425.66L704.10 425.52L705.60 425.33L707.10 425.10L708.60 424.82L710.10 424.49L711.60 424.11L713.10 423.67L714.60 423.19L716.10 422.66L717.60 422.09L719.10 421.47L720.60 420.81L722.10 420.12L723.60 419.40L725.10 418.64L726.60 417.85L728.10 417.04L729.60 416.20L731.10 415.34L732.60 414.46L734.10 413.57L735.60 412.66L737.10 411.74L738.60 410.82L740.10 409.88L741.60 408.94L743.10 408.01L744.60 407.07L746.10 406.14L747.60 405.21L749.10 404.29L750.60 403.38L752.10 402.49L753.60 401.62L755.10 400.76L756.60 399.93L758.10 399.11L759.60 398.33L761.10 397.57L762.60 396.84L764.10 396.14L765.60 395.47L767.10 394.84L768.60 394.24L770.10 393.69L771.60 393.17L773.10 392.70L774.60 392.27L776.10 391.89L777.60 391.56L779.10 391.28L780.60 391.05L782.10 390.88L783.60 390.76L785.10 390.70L786.60 390.70"/>
<path d="M604.70 453.30L606.22 453.07L607.73 452.84L609.25 452.61L610.77 452.38L612.28 452.16L613.80 451.94L615.32 451.73L616.83 451.52L618.35 451.32L619.87 451.13L621.38 450.94L622.90 450.77L624.42 450.60L625.93 450.45L627.45 450.30L628.97 450.17L630.48 450.05L632.00 449.94L633.52 449.85L635.03 449.77L636.55 449.71L638.07 449.67L639.58 449.64L641.10 449.60L642.60 449.54L644.10 449.44L645.60 449.27L647.10 449.04L648.60 448.76L650.10 448.41L651.60 448.02L653.10 447.57L654.60 447.07L656.10 446.53L657.60 445.94L659.10 445.31L660.60 444.64L662.10 443.93L663.60 443.18L665.10 442.41L666.60 441.60L668.10 440.76L669.60 439.90L671.10 439.01L672.60 438.09L674.10 437.15L675.60 436.19L677.10 435.20L678.60 434.20L680.10 433.18L681.60 432.14L683.10 431.08L684.60 430.02L686.10 428.94L687.60 427.84L689.10 426.74L690.60 425.64L692.10 424.52L693.60 423.40L695.10 422.28L696.60 421.15L698.10 420.02L699.60 418.90L701.10 417.78L702.60 416.66L704.10 415.54L705.60 414.43L707.10 413.33L708.60 412.24L710.10 411.15L711.60 410.07L713.10 409.01L714.60 407.95L716.10 406.90L717.60 405.87L719.10 404.85L720.60 403.84L722.10 402.84L723.60 401.86L725.10 400.89L726.60 399.94L728.10 399.01L729.60 398.09L731.10 397.19L732.60 396.31L734.10 395.45L735.60 394.61L737.10 393.79L738.60 392.99L740.10 392.21L741.60 391.45L743.10 390.72L744.60 390.01L746.10 389.33L747.60 388.67L749.10 388.03L750.60 387.43L752.10 386.85L753.60 386.30L755.10 385.77L756.60 385.28L758.10 384.82L759.60 384.38L761.10 383.98L762.60 383.61L764.10 383.27L765.60 382.97L767.10 382.70L768.60 382.47L770.10 382.27L771.60 382.10L773.10 381.98L774.60 381.89L776.10 381.83L777.60 381.82L779.10 381.85L780.60 381.92L782.10 382.02L783.60 382.17L785.10 382.36L786.60 382.60"/>
<path d="M604.70 453.30L606.22 453.51L607.73 453.74L609.25 453.98L610.77 454.22L612.28 454.46L613.80 454.71L615.32 454.96L616.83 455.21L618.35 455.46L619.87 455.70L621.38 455.94L622.90 456.17L624.42 456.39L625.93 456.60L627.45 456.80L628.97 456.99L630.48 457.16L632.00 457.31L633.52 457.45L635.03 457.56L636.55 457.65L638.07 457.72L639.58 457.76L641.10 457.80L642.60 457.78L644.10 457.69L645.60 457.54L647.10 457.34L648.60 457.09L650.10 456.79L651.60 456.45L653.10 456.05L654.60 455.61L656.10 455.13L657.60 454.60L659.10 454.03L660.60 453.42L662.10 452.77L663.60 452.08L665.10 451.36L666.60 450.59L668.10 449.79L669.60 448.96L671.10 448.09L672.60 447.19L674.10 446.27L675.60 445.31L677.10 444.32L678.60 443.31L680.10 442.27L681.60 441.21L683.10 440.13L684.60 439.03L686.10 437.91L687.60 436.78L689.10 435.64L690.60 434.49L692.10 433.33L693.60 432.17L695.10 431.01L696.60 429.84L698.10 428.68L699.60 427.52L701.10 426.37L702.60 425.22L704.10 424.08L705.60 422.96L707.10 421.85L708.60 420.75L710.10 419.66L711.60 418.59L713.10 417.53L714.60 416.48L716.10 415.45L717.60 414.42L719.10 413.41L720.60 412.42L722.10 411.44L723.60 410.47L725.10 409.51L726.60 408.57L728.10 407.64L729.60 406.72L731.10 405.82L732.60 404.92L734.10 404.05L735.60 403.18L737.10 402.33L738.60 401.49L740.10 400.66L741.60 399.85L743.10 399.05L744.60 398.26L746.10 397.49L747.60 396.73L749.10 395.98L750.60 395.24L752.10 394.51L753.60 393.80L755.10 393.10L756.60 392.42L758.10 391.74L759.60 391.08L761.10 390.43L762.60 389.80L764.10 389.18L765.60 388.57L767.10 387.98L768.60 387.42L770.10 386.87L771.60 386.34L773.10 385.84L774.60 385.36L776.10 384.91L777.60 384.49L779.10 384.09L780.60 383.73L782.10 383.39L783.60 383.09L785.10 382.82L786.60 382.60"/>
<path d="M604.70 478.50L606.22 478.08L607.73 477.68L609.25 477.30L610.77 476.94L612.28 476.59L613.80 476.26L615.32 475.95L616.83 475.66L618.35 475.39L619.87 475.13L621.38 474.89L622.90 474.67L624.42 474.47L625.93 474.28L627.45 474.12L628.97 473.97L630.48 473.83L632.00 473.72L633.52 473.62L635.03 473.54L636.55 473.48L638.07 473.44L639.58 473.41L641.10 473.40L642.60 473.37L644.10 473.32L645.60 473.22L647.10 473.10L648.60 472.95L650.10 472.77L651.60 472.56L653.10 472.33L654.60 472.08L656.10 471.81L657.60 471.52L659.10 471.22L660.60 470.90L662.10 470.58L663.60 470.24L665.10 469.89L666.60 469.55L668.10 469.19L669.60 468.84L671.10 468.49L672.60 468.14L674.10 467.79L675.60 467.46L677.10 467.13L678.60 466.81L680.10 466.50L681.60 466.21L683.10 465.94L684.60 465.69L686.10 465.46L687.60 465.25L689.10 465.07L690.60 464.91L692.10 464.79L693.60 464.70L695.10 464.67L696.60 464.69L698.10 464.77L699.60 464.93L701.10 465.17L702.60 465.50L704.10 465.93L705.60 466.45L707.10 467.07L708.60 467.76L710.10 468.54L711.60 469.38L713.10 470.29L714.60 471.26L716.10 472.28L717.60 473.35L719.10 474.45L720.60 475.60L722.10 476.77L723.60 477.98L725.10 479.21L726.60 480.47L728.10 481.75L729.60 483.05L731.10 484.36L732.60 485.69L734.10 487.03L735.60 488.38L737.10 489.74L738.60 491.10L740.10 492.46L741.60 493.82L743.10 495.19L744.60 496.55L746.10 497.92L747.60 499.29L749.10 500.67L750.60 502.04L752.10 503.42L753.60 504.80L755.10 506.19L756.60 507.58L758.10 508.97L759.60 510.36L761.10 511.76L762.60 513.16L764.10 514.55L765.60 515.94L767.10 517.32L768.60 518.69L770.10 520.06L771.60 521.41L773.10 522.75L774.60 524.07L776.10 525.37L777.60 526.65L779.10 527.91L780.60 529.14L782.10 530.35L783.60 531.53L785.10 532.68L786.60 533.80"/>
<path d="M604.70 478.50L606.22 478.71L607.73 478.92L609.25 479.13L610.77 479.33L612.28 479.54L613.80 479.74L615.32 479.93L616.83 480.12L618.35 480.31L619.87 480.48L621.38 480.65L622.90 480.82L624.42 480.97L625.93 481.11L627.45 481.25L628.97 481.37L630.48 481.48L632.00 481.58L633.52 481.67L635.03 481.74L636.55 481.80L638.07 481.84L639.58 481.87L641.10 481.90L642.60 481.89L644.10 481.84L645.60 481.75L647.10 481.64L648.60 481.50L650.10 481.34L651.60 481.17L653.10 480.97L654.60 480.76L656.10 480.54L657.60 480.30L659.10 480.07L660.60 479.82L662.10 479.57L663.60 479.33L665.10 479.09L666.60 478.85L668.10 478.62L669.60 478.40L671.10 478.19L672.60 478.00L674.10 477.83L675.60 477.67L677.10 477.54L678.60 477.44L680.10 477.36L681.60 477.31L683.10 477.30L684.60 477.32L686.10 477.38L687.60 477.48L689.10 477.62L690.60 477.82L692.10 478.07L693.60 478.38L695.10 478.75L696.60 479.20L698.10 479.71L699.60 480.31L701.10 480.98L702.60 481.73L704.10 482.56L705.60 483.46L707.10 484.43L708.60 485.46L710.10 486.56L711.60 487.72L713.10 488.93L714.60 490.21L716.10 491.53L717.60 492.90L719.10 494.32L720.60 495.78L722.10 497.28L723.60 498.81L725.10 500.37L726.60 501.95L728.10 503.56L729.60 505.17L731.10 506.79L732.60 508.42L734.10 510.05L735.60 511.67L737.10 513.27L738.60 514.87L740.10 516.44L741.60 517.99L743.10 519.52L744.60 521.04L746.10 522.53L747.60 524.00L749.10 525.46L750.60 526.89L752.10 528.31L753.60 529.71L755.10 531.09L756.60 532.44L758.10 533.78L759.60 535.10L761.10 536.41L762.60 537.70L764.10 538.97L765.60 540.24L767.10 541.49L768.60 542.74L770.10 543.98L771.60 545.21L773.10 546.44L774.60 547.67L776.10 548.91L777.60 550.14L779.10 551.38L780.60 552.62L782.10 553.88L783.60 555.14L785.10 556.41L786.60 557.70"/>
<path d="M604.70 533.80L606.22 532.77L607.73 531.78L609.25 530.82L610.77 529.90L612.28 529.02L613.80 528.18L615.32 527.38L616.83 526.62L618.35 525.91L619.87 525.23L621.38 524.60L622.90 524.01L624.42 523.47L625.93 522.97L627.45 522.51L628.97 522.10L630.48 521.73L632.00 521.42L633.52 521.15L635.03 520.92L636.55 520.75L638.07 520.62L639.58 520.54L641.10 520.50L642.60 520.57L644.10 520.64L645.60 520.77L647.10 520.94L648.60 521.17L650.10 521.43L651.60 521.74L653.10 522.09L654.60 522.48L656.10 522.91L657.60 523.37L659.10 523.86L660.60 524.39L662.10 524.94L663.60 525.52L665.10 526.12L666.60 526.75L668.10 527.40L669.60 528.07L671.10 528.75L672.60 529.45L674.10 530.17L675.60 530.89L677.10 531.62L678.60 532.36L680.10 533.11L681.60 533.86L683.10 534.61L684.60 535.35L686.10 536.10L687.60 536.84L689.10 537.57L690.60 538.30L692.10 539.01L693.60 539.72L695.10 540.40L696.60 541.08L698.10 541.73L699.60 542.37L701.10 542.99L702.60 543.60L704.10 544.18L705.60 544.74L707.10 545.29L708.60 545.81L710.10 546.31L711.60 546.79L713.10 547.24L714.60 547.67L716.10 548.08L717.60 548.46L719.10 548.81L720.60 549.14L722.10 549.44L723.60 549.71L725.10 549.95L726.60 550.17L728.10 550.35L729.60 550.50L731.10 550.62L732.60 550.71L734.10 550.76L735.60 550.79L737.10 550.78L738.60 550.75L740.10 550.68L741.60 550.58L743.10 550.45L744.60 550.30L746.10 550.11L747.60 549.89L749.10 549.64L750.60 549.36L752.10 549.05L753.60 548.71L755.10 548.34L756.60 547.93L758.10 547.50L759.60 547.05L761.10 546.56L762.60 546.04L764.10 545.49L765.60 544.91L767.10 544.31L768.60 543.67L770.10 543.00L771.60 542.31L773.10 541.59L774.60 540.84L776.10 540.06L777.60 539.25L779.10 538.41L780.60 537.54L782.10 536.65L783.60 535.73L785.10 534.78L786.60 533.80"/>
<path d="M604.70 533.80L606.22 534.66L607.73 535.49L609.25 536.29L610.77 537.04L612.28 537.77L613.80 538.45L615.32 539.10L616.83 539.71L618.35 540.29L619.87 540.82L621.38 541.33L622.90 541.79L624.42 542.22L625.93 542.61L627.45 542.96L628.97 543.28L630.48 543.56L632.00 543.80L633.52 544.01L635.03 544.18L636.55 544.31L638.07 544.41L639.58 544.46L641.10 544.50L642.60 544.51L644.10 544.56L645.60 544.67L647.10 544.82L648.60 545.02L650.10 545.26L651.60 545.54L653.10 545.86L654.60 546.23L656.10 546.63L657.60 547.07L659.10 547.54L660.60 548.05L662.10 548.60L663.60 549.17L665.10 549.77L666.60 550.40L668.10 551.05L669.60 551.72L671.10 552.41L672.60 553.11L674.10 553.83L675.60 554.56L677.10 555.29L678.60 556.04L680.10 556.78L681.60 557.52L683.10 558.27L684.60 559.01L686.10 559.75L687.60 560.48L689.10 561.21L690.60 561.93L692.10 562.65L693.60 563.35L695.10 564.05L696.60 564.73L698.10 565.40L699.60 566.05L701.10 566.69L702.60 567.31L704.10 567.92L705.60 568.50L707.10 569.07L708.60 569.61L710.10 570.13L711.60 570.62L713.10 571.09L714.60 571.53L716.10 571.95L717.60 572.33L719.10 572.68L720.60 573.01L722.10 573.30L723.60 573.56L725.10 573.78L726.60 573.98L728.10 574.15L729.60 574.28L731.10 574.39L732.60 574.46L734.10 574.50L735.60 574.52L737.10 574.50L738.60 574.45L740.10 574.37L741.60 574.26L743.10 574.13L744.60 573.96L746.10 573.76L747.60 573.54L749.10 573.28L750.60 573.00L752.10 572.68L753.60 572.34L755.10 571.97L756.60 571.57L758.10 571.14L759.60 570.68L761.10 570.19L762.60 569.68L764.10 569.14L765.60 568.56L767.10 567.97L768.60 567.34L770.10 566.69L771.60 566.00L773.10 565.29L774.60 564.56L776.10 563.79L777.60 563.00L779.10 562.18L780.60 561.34L782.10 560.47L783.60 559.57L785.10 558.64L786.60 557.70"/>
</g>
<path d="M459.7 362.7L459.7 612.4M459.2 363.2L787.2 363.2M786.7 362.7L786.7 612.4M459.2 611.9L787.2 611.9" stroke="#111" stroke-width="1.05" fill="none"/>
<rect x="580.7" y="365" width="82.7" height="21.9" fill="#d9efd4"/>
<text class="serif" x="585.6" y="379.8" font-size="20.55" fill="#ff0808" stroke="#ff0808" stroke-width="0.25">235-type</text>
<g class="serif" font-size="14.5" fill="#111" text-anchor="middle">
<text transform="translate(459.5 626.8) scale(1 1.07)">S</text><text transform="translate(605 626.8) scale(1 1.07)">Y</text><text transform="translate(641 626.8) scale(1 1.07)">Γ</text><text transform="translate(787 626.8) scale(1 1.07)">X</text>
</g>
</svg>
</body>
</html>
